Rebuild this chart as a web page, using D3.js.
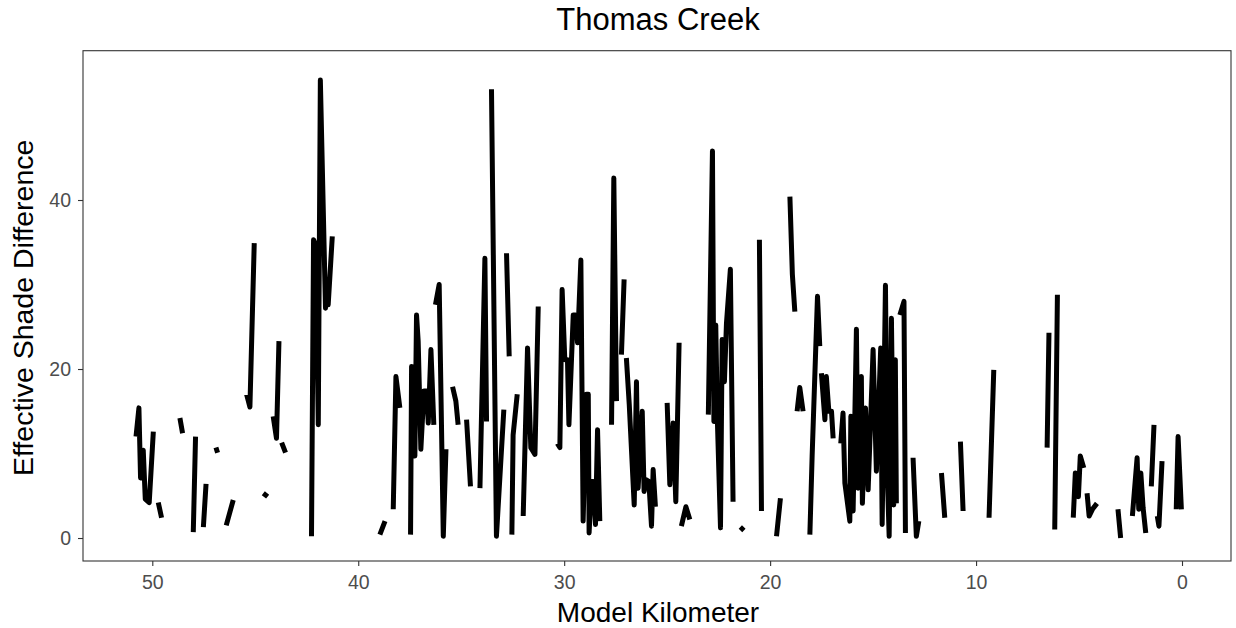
<!DOCTYPE html>
<html>
<head>
<meta charset="utf-8">
<script src="https://cdn.jsdelivr.net/npm/d3@7"></script>
<style>
  html, body { margin: 0; padding: 0; background: #fff; }
  svg { display: block; }
  text { font-family: "Liberation Sans", Arial, sans-serif; }
</style>
</head>
<body>
<svg id="chart" width="1236" height="628"></svg>
<script>
// ---- data (null = gap / missing value) ----
const km = [
  50.79,50.65,50.57,50.44,50.34,50.15,49.95,null,
  49.71,49.55,null,
  48.66,48.53,null,
  48.01,47.90,null,
  47.52,47.39,null,
  46.91,46.83,null,
  46.41,46.07,null,
  45.42,45.26,45.05,null,
  44.61,44.40,null,
  44.13,43.97,43.85,null,
  43.72,43.53,null,
  42.27,42.17,42.07,41.94,41.84,41.59,41.52,41.46,41.26,null,
  38.95,38.70,null,
  38.30,38.17,37.98,null,
  37.46,37.41,37.25,37.17,37.09,36.96,36.81,36.68,36.60,36.47,36.33,null,
  36.25,36.07,35.87,35.74,null,
  35.42,35.26,35.15,null,
  34.74,34.55,null,
  34.09,33.85,33.77,null,
  33.53,33.29,32.93,null,
  32.80,32.67,null,
  32.54,32.48,32.28,null,
  31.99,31.78,31.62,31.42,31.26,null,
  30.33,30.21,30.10,29.97,29.84,29.77,29.56,29.45,29.35,29.19,29.08,28.92,28.83,28.79,28.67,28.59,28.48,28.38,28.27,null,
  27.70,27.59,27.46,null,
  27.22,27.09,null,
  26.98,26.84,26.60,26.49,26.41,26.21,26.12,26.03,25.89,25.76,25.68,25.57,null,
  25.00,24.87,24.71,24.58,24.42,null,
  24.31,24.09,23.90,null,
  23.00,22.80,22.73,22.64,22.56,22.41,22.33,22.22,22.12,21.93,21.80,null,
  21.44,21.28,null,
  20.52,20.42,null,
  19.69,19.50,null,
  19.04,18.92,18.80,null,
  18.69,18.56,18.40,null,
  18.07,17.96,17.70,17.59,null,
  17.51,17.34,17.27,17.15,17.02,16.94,null,
  16.57,16.46,16.37,16.13,16.08,15.97,15.81,15.73,15.57,15.52,15.37,15.24,15.00,14.84,14.63,14.56,14.40,14.31,14.22,14.11,14.00,13.92,13.87,null,
  13.70,13.50,13.43,null,
  13.06,12.90,12.78,null,
  11.68,11.52,null,
  10.76,10.63,null,
  9.37,9.14,null,
  6.55,6.46,null,
  6.18,6.05,null,
  5.28,5.18,5.03,4.94,4.77,null,
  4.61,4.51,4.35,4.13,null,
  3.11,2.98,null,
  2.41,2.18,2.10,2.00,1.89,1.76,null,
  1.49,1.36,null,
  1.20,1.12,0.97,null,
  0.28,0.19,0.03
];
const shade = [
  12.0,15.4,7.1,10.4,4.6,4.2,12.6,null,
  4.2,2.4,null,
  14.2,12.4,null,
  0.7,12.0,null,
  1.3,6.4,null,
  10.7,10.1,null,
  1.5,4.5,null,
  17.0,15.5,34.9,null,
  5.3,4.9,null,
  14.4,11.8,23.3,null,
  11.3,10.1,null,
  0.2,35.3,34.7,13.4,54.2,27.2,30.4,27.6,35.7,null,
  0.4,2.0,null,
  3.4,19.1,15.4,null,
  0.4,20.3,9.7,26.4,23.3,10.5,17.4,17.4,13.6,22.3,13.4,null,
  27.6,30.0,0.2,10.5,null,
  17.9,16.2,13.4,null,
  14.0,6.1,null,
  5.9,33.1,13.8,null,
  53.1,0.2,15.2,null,
  33.7,21.5,null,
  0.4,12.2,17.0,null,
  2.6,22.5,10.7,9.9,27.4,null,
  11.2,10.7,29.4,21.1,21.1,13.4,26.4,26.4,23.1,32.9,2.0,17.0,17.0,0.6,6.7,6.7,1.6,12.8,2.0,null,
  13.4,42.6,16.2,null,
  21.7,30.6,null,
  21.3,15.8,3.9,18.5,5.9,15.0,5.5,6.9,6.7,1.4,8.1,3.7,null,
  16.0,6.3,13.6,4.3,23.1,null,
  1.4,3.7,2.2,null,
  14.6,45.8,13.8,25.2,13.8,1.2,23.5,18.5,25.4,31.8,4.3,null,
  0.9,1.3,null,
  35.3,3.2,null,
  0.2,4.7,null,
  40.4,31.2,26.8,null,
  15.0,17.8,15.0,null,
  0.4,9.7,28.6,22.7,null,
  19.5,14.0,19.1,15.0,15.0,11.8,null,
  11.2,14.8,6.5,2.0,14.4,3.2,24.7,5.9,19.1,4.1,15.4,5.7,22.3,7.9,22.5,1.6,29.9,7.5,0.2,26.0,3.9,21.1,4.1,null,
  26.4,28.0,0.6,null,
  9.5,0.2,2.0,null,
  7.7,2.4,null,
  11.4,3.2,null,
  2.4,19.9,null,
  10.7,24.3,null,
  1.0,28.8,null,
  2.4,7.7,4.9,9.7,8.3,null,
  5.3,2.6,3.4,4.1,null,
  3.4,0.0,null,
  2.6,9.5,3.4,7.7,3.6,0.6,null,
  6.1,13.4,null,
  2.6,1.4,9.1,null,
  3.4,12.0,3.4
];
const xTicks = [50, 40, 30, 20, 10, 0];
const yTicks = [0, 20, 40];
const xMinor = [45, 35, 25, 15, 5];
const yMinor = [10, 30, 50];
const titleText = "Thomas Creek";
const xLabel = "Model Kilometer";
const yLabel = "Effective Shade Difference";

// ---- layout ----
const svg = d3.select("#chart");
const panel = { left: 83, right: 1231, top: 50.7, bottom: 561 };

const x = d3.scaleLinear().domain([53.365, -2.379]).range([panel.left, panel.right]);
const y = d3.scaleLinear().domain([-2.72, 57.67]).range([panel.bottom, panel.top]);

const pts = km.map((k, i) => ({ k, v: shade[i] }));

// panel background
svg.append("rect")
  .attr("x", panel.left).attr("y", panel.top)
  .attr("width", panel.right - panel.left).attr("height", panel.bottom - panel.top)
  .attr("fill", "#fff");

// grid lines (white, effectively invisible as in the reference)
const grid = svg.append("g").attr("stroke", "#ffffff");
grid.selectAll(".gx").data(xTicks.concat(xMinor)).join("line")
  .attr("x1", d => x(d)).attr("x2", d => x(d))
  .attr("y1", panel.top).attr("y2", panel.bottom)
  .attr("stroke-width", d => xTicks.includes(d) ? 1 : 0.5);
grid.selectAll(".gy").data(yTicks.concat(yMinor)).join("line")
  .attr("y1", d => y(d)).attr("y2", d => y(d))
  .attr("x1", panel.left).attr("x2", panel.right)
  .attr("stroke-width", d => yTicks.includes(d) ? 1 : 0.5);

// line with gaps
const line = d3.line()
  .defined(d => d.k !== null && d.v !== null)
  .x(d => x(d.k))
  .y(d => y(d.v));

svg.append("path")
  .datum(pts)
  .attr("d", line)
  .attr("fill", "none")
  .attr("stroke", "#000")
  .attr("stroke-width", 5)
  .attr("stroke-linejoin", "round")
  .attr("stroke-linecap", "butt");

// panel border
svg.append("rect")
  .attr("x", panel.left).attr("y", panel.top)
  .attr("width", panel.right - panel.left).attr("height", panel.bottom - panel.top)
  .attr("fill", "none").attr("stroke", "#333").attr("stroke-width", 1.1);

// x axis
const xAxis = d3.axisBottom(x).tickValues(xTicks).tickSize(5).tickPadding(9).tickFormat(d3.format("d"));
const gx = svg.append("g").attr("transform", `translate(0,${panel.bottom})`).call(xAxis);
gx.select(".domain").remove();
gx.selectAll(".tick line").attr("stroke", "#333").attr("stroke-width", 1.1);
gx.selectAll(".tick text").attr("fill", "#4d4d4d").style("font-size", "19.5px")
  .style("font-family", "'Liberation Sans', Arial, sans-serif");

// y axis
const yAxis = d3.axisLeft(y).tickValues(yTicks).tickSize(5).tickPadding(7).tickFormat(d3.format("d"));
const gy = svg.append("g").attr("transform", `translate(${panel.left},0)`).call(yAxis);
gy.select(".domain").remove();
gy.selectAll(".tick line").attr("stroke", "#333").attr("stroke-width", 1.1);
gy.selectAll(".tick text").attr("fill", "#4d4d4d").style("font-size", "19.5px")
  .style("font-family", "'Liberation Sans', Arial, sans-serif");

// titles
svg.append("text")
  .attr("x", (panel.left + panel.right) / 2 + 1).attr("y", 30)
  .attr("text-anchor", "middle").attr("fill", "#000")
  .style("font-size", "31px")
  .text(titleText);

svg.append("text")
  .attr("x", (panel.left + panel.right) / 2 + 1).attr("y", 622)
  .attr("text-anchor", "middle").attr("fill", "#000")
  .style("font-size", "28px")
  .text(xLabel);

svg.append("text")
  .attr("transform", `translate(33,${(panel.top + panel.bottom) / 2 + 2}) rotate(-90)`)
  .attr("text-anchor", "middle").attr("fill", "#000")
  .style("font-size", "28.5px")
  .text(yLabel);
</script>
</body>
</html>
